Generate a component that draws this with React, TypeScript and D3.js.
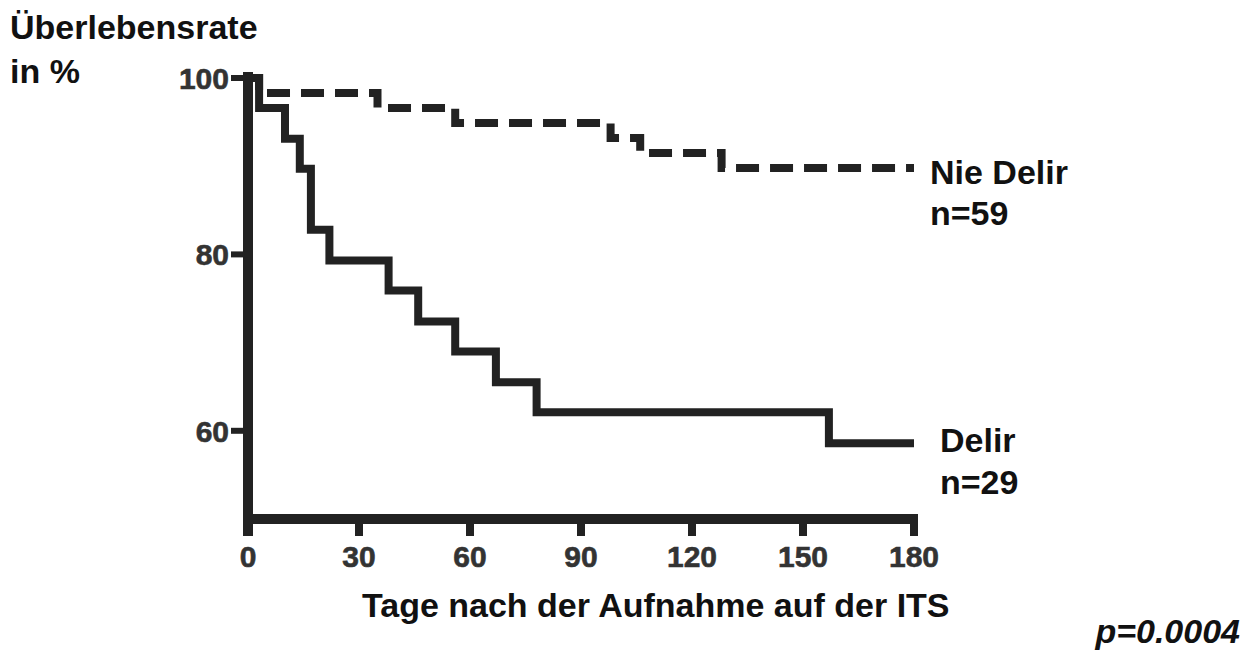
import React from "react";
import * as d3 from "d3";

// Kaplan-Meier steps (days, survival %)
const delirDays = [0, 3, 10, 14, 17, 22, 38, 46, 56, 67, 78, 157, 180];
const delirSurv = [100, 96.6, 93.1, 89.7, 82.8, 79.3, 75.9, 72.4, 69.0, 65.5, 62.1, 58.6, 58.6];

const nieDelirDays = [0, 3, 35, 56, 98, 106, 128, 180];
const nieDelirSurv = [100, 98.3, 96.6, 94.9, 93.2, 91.5, 89.8, 89.8];

const xTicks = [0, 30, 60, 90, 120, 150, 180];
const yTicks = [60, 80, 100];

const W = 1253;
const H = 655;
const font = "Arial, 'Liberation Sans', sans-serif";
const ink = "#222";

const x = d3.scaleLinear().domain([0, 180]).range([248, 914]);
const y = d3.scaleLinear().domain([50, 100]).range([519, 78]);

const step = d3
  .line<[number, number]>()
  .x((d) => x(d[0]))
  .y((d) => y(d[1]))
  .curve(d3.curveStepAfter);

const App = () => {
  const delir = delirDays.map((d, i) => [d, delirSurv[i]] as [number, number]);
  const nie = nieDelirDays.map((d, i) => [d, nieDelirSurv[i]] as [number, number]);
  const x0 = x(0);
  const yBase = y(50);

  return (
    <svg
      width={W}
      height={H}
      style={{ position: "absolute", left: 0, top: 0, background: "#fff" }}
      fontFamily={font}
    >
      {/* curves */}
      <path d={step(nie) || ""} fill="none" stroke={ink} strokeWidth={8} strokeDasharray="23 11" />
      <path d={step(delir) || ""} fill="none" stroke={ink} strokeWidth={8} />

      {/* y axis */}
      <line x1={x0} x2={x0} y1={y(100) - 6} y2={yBase + 17} stroke={ink} strokeWidth={10} />
      {yTicks.map((t) => (
        <g key={t}>
          <line x1={x0 - 17} x2={x0} y1={y(t)} y2={y(t)} stroke={ink} strokeWidth={6} />
          <text
            x={x0 - 19}
            y={y(t)}
            dy="0.36em"
            textAnchor="end"
            fontSize={30}
            fontWeight="bold"
            fill="#333"
            stroke="#333"
            strokeWidth={0.6}
          >
            {t}
          </text>
        </g>
      ))}

      {/* x axis */}
      <line x1={x0 - 5} x2={x(180) + 4} y1={yBase} y2={yBase} stroke={ink} strokeWidth={10} />
      {xTicks.map((t) => (
        <g key={t}>
          <line x1={x(t)} x2={x(t)} y1={yBase} y2={yBase + 17} stroke={ink} strokeWidth={8} />
          <text
            x={x(t)}
            y={567}
            textAnchor="middle"
            fontSize={30}
            fontWeight="bold"
            fill="#333"
            stroke="#333"
            strokeWidth={0.6}
          >
            {t}
          </text>
        </g>
      ))}

      {/* titles and labels */}
      <g fontWeight="bold" fontSize={34} fill="#111">
        <text x={10} y={39}>Überlebensrate</text>
        <text x={10} y={83}>in %</text>
        <text x={362} y={617}>Tage nach der Aufnahme auf der ITS</text>
        <text x={930} y={184}>Nie Delir</text>
        <text x={930} y={225}>n=59</text>
        <text x={940} y={452}>Delir</text>
        <text x={940} y={494}>n=29</text>
        <text x={1240} y={643} textAnchor="end" fontStyle="italic">
          p=0.0004
        </text>
      </g>
    </svg>
  );
};

export default App;
